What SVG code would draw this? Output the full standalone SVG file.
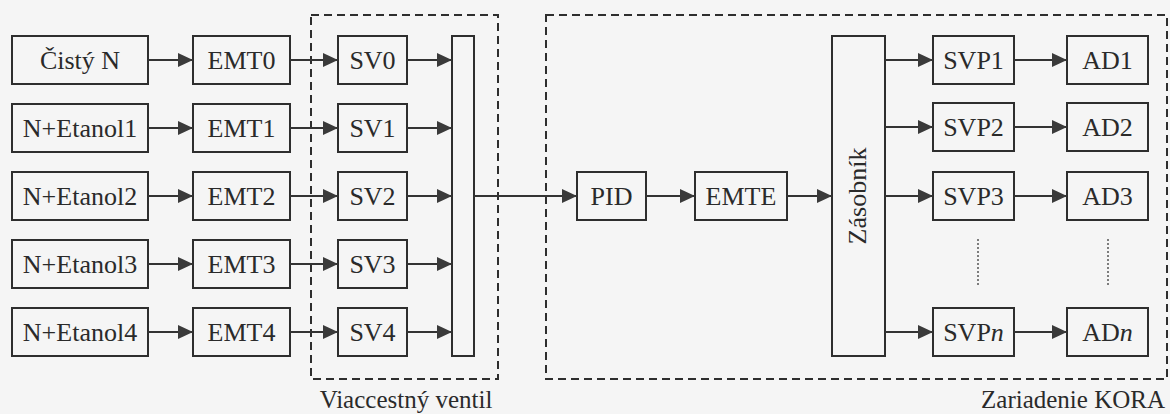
<svg xmlns="http://www.w3.org/2000/svg" width="1170" height="414" viewBox="0 0 1170 414">
<style>
.box{fill:none;stroke:#2e2e2e;stroke-width:2}
.c{fill:none;stroke:#333;stroke-width:2}
.dash{fill:none;stroke:#2e2e2e;stroke-width:2;stroke-dasharray:8 5}
.dot{fill:none;stroke:#555;stroke-width:1.5;stroke-dasharray:2 2}
svg text.t{font-family:'Liberation Serif',serif !important;font-size:26px !important;fill:#2a2a2a;text-anchor:middle}
svg text.lbl{font-family:'Liberation Serif',serif !important;font-size:25px !important;fill:#2a2a2a}
</style>
<defs>
<marker id="ah" markerUnits="userSpaceOnUse" markerWidth="16" markerHeight="14" refX="15" refY="7" orient="auto">
<path d="M0,0 L15,7 L0,14 Z" fill="#3a3a3a"/>
</marker>
</defs>
<rect width="1170" height="414" fill="#f5f5f5"/>
<g id="group-ventil"><rect class="dash" x="311" y="15" width="187" height="364"/><text class="lbl" style="font-family:'Liberation Serif',serif;font-size:25px" x="406" y="408" text-anchor="middle">Viaccestný ventil</text></g>
<g id="group-kora"><rect class="dash" x="546" y="15" width="621" height="364"/><text class="lbl" style="font-family:'Liberation Serif',serif;font-size:25px" x="1165" y="408" text-anchor="end">Zariadenie KORA</text></g>

<g id="n-cisty"><rect class="box" x="12" y="36" width="136" height="48"/><text class="t" style="font-family:'Liberation Serif',serif;font-size:26px" x="80" y="69">Čistý N</text></g>
<g id="n-et1"><rect class="box" x="12" y="104" width="136" height="48"/><text class="t" style="font-family:'Liberation Serif',serif;font-size:26px" x="80" y="137">N+Etanol1</text></g>
<g id="n-et2"><rect class="box" x="12" y="172" width="136" height="48"/><text class="t" style="font-family:'Liberation Serif',serif;font-size:26px" x="80" y="205">N+Etanol2</text></g>
<g id="n-et3"><rect class="box" x="12" y="240" width="136" height="48"/><text class="t" style="font-family:'Liberation Serif',serif;font-size:26px" x="80" y="273">N+Etanol3</text></g>
<g id="n-et4"><rect class="box" x="12" y="308" width="136" height="48"/><text class="t" style="font-family:'Liberation Serif',serif;font-size:26px" x="80" y="341">N+Etanol4</text></g>

<g id="n-emt0"><rect class="box" x="193" y="36" width="97" height="48"/><text class="t" style="font-family:'Liberation Serif',serif;font-size:26px" x="241.5" y="69">EMT0</text></g>
<g id="n-emt1"><rect class="box" x="193" y="104" width="97" height="48"/><text class="t" style="font-family:'Liberation Serif',serif;font-size:26px" x="241.5" y="137">EMT1</text></g>
<g id="n-emt2"><rect class="box" x="193" y="172" width="97" height="48"/><text class="t" style="font-family:'Liberation Serif',serif;font-size:26px" x="241.5" y="205">EMT2</text></g>
<g id="n-emt3"><rect class="box" x="193" y="240" width="97" height="48"/><text class="t" style="font-family:'Liberation Serif',serif;font-size:26px" x="241.5" y="273">EMT3</text></g>
<g id="n-emt4"><rect class="box" x="193" y="308" width="97" height="48"/><text class="t" style="font-family:'Liberation Serif',serif;font-size:26px" x="241.5" y="341">EMT4</text></g>

<g id="n-sv0"><rect class="box" x="338" y="36" width="69" height="48"/><text class="t" style="font-family:'Liberation Serif',serif;font-size:26px" x="372.5" y="69">SV0</text></g>
<g id="n-sv1"><rect class="box" x="338" y="104" width="69" height="48"/><text class="t" style="font-family:'Liberation Serif',serif;font-size:26px" x="372.5" y="137">SV1</text></g>
<g id="n-sv2"><rect class="box" x="338" y="172" width="69" height="48"/><text class="t" style="font-family:'Liberation Serif',serif;font-size:26px" x="372.5" y="205">SV2</text></g>
<g id="n-sv3"><rect class="box" x="338" y="240" width="69" height="48"/><text class="t" style="font-family:'Liberation Serif',serif;font-size:26px" x="372.5" y="273">SV3</text></g>
<g id="n-sv4"><rect class="box" x="338" y="308" width="69" height="48"/><text class="t" style="font-family:'Liberation Serif',serif;font-size:26px" x="372.5" y="341">SV4</text></g>

<g id="n-bar"><rect class="box" x="452" y="36" width="22" height="320"/></g>

<g id="n-pid"><rect class="box" x="577" y="172" width="69" height="48"/><text class="t" style="font-family:'Liberation Serif',serif;font-size:26px" x="611.5" y="205">PID</text></g>
<g id="n-emte"><rect class="box" x="695" y="172" width="92" height="48"/><text class="t" style="font-family:'Liberation Serif',serif;font-size:26px" x="741" y="205">EMTE</text></g>
<g id="n-zasobnik"><rect class="box" x="832" y="36" width="53" height="320"/><text class="t" style="font-family:'Liberation Serif',serif;font-size:26px" transform="translate(866,196) rotate(-90)" x="0" y="0">Zásobník</text></g>

<g id="n-svp1"><rect class="box" x="933" y="36" width="81" height="48"/><text class="t" style="font-family:'Liberation Serif',serif;font-size:26px" x="973.5" y="69">SVP1</text></g>
<g id="n-svp2"><rect class="box" x="933" y="103" width="81" height="48"/><text class="t" style="font-family:'Liberation Serif',serif;font-size:26px" x="973.5" y="136">SVP2</text></g>
<g id="n-svp3"><rect class="box" x="933" y="172" width="81" height="48"/><text class="t" style="font-family:'Liberation Serif',serif;font-size:26px" x="973.5" y="205">SVP3</text></g>
<g id="n-svpn"><rect class="box" x="933" y="308" width="81" height="48"/><text class="t" style="font-family:'Liberation Serif',serif;font-size:26px" x="973.5" y="341">SVP<tspan font-style="italic">n</tspan></text></g>

<g id="n-ad1"><rect class="box" x="1067" y="36" width="81" height="48"/><text class="t" style="font-family:'Liberation Serif',serif;font-size:26px" x="1107.5" y="69">AD1</text></g>
<g id="n-ad2"><rect class="box" x="1067" y="103" width="81" height="48"/><text class="t" style="font-family:'Liberation Serif',serif;font-size:26px" x="1107.5" y="136">AD2</text></g>
<g id="n-ad3"><rect class="box" x="1067" y="172" width="81" height="48"/><text class="t" style="font-family:'Liberation Serif',serif;font-size:26px" x="1107.5" y="205">AD3</text></g>
<g id="n-adn"><rect class="box" x="1067" y="308" width="81" height="48"/><text class="t" style="font-family:'Liberation Serif',serif;font-size:26px" x="1107.5" y="341">AD<tspan font-style="italic">n</tspan></text></g>

<g id="connectors">
<line class="c" x1="148" y1="60" x2="193" y2="60" marker-end="url(#ah)"/>
<line class="c" x1="148" y1="128" x2="193" y2="128" marker-end="url(#ah)"/>
<line class="c" x1="148" y1="196" x2="193" y2="196" marker-end="url(#ah)"/>
<line class="c" x1="148" y1="264" x2="193" y2="264" marker-end="url(#ah)"/>
<line class="c" x1="148" y1="332" x2="193" y2="332" marker-end="url(#ah)"/>
<line class="c" x1="290" y1="60" x2="338" y2="60" marker-end="url(#ah)"/>
<line class="c" x1="290" y1="128" x2="338" y2="128" marker-end="url(#ah)"/>
<line class="c" x1="290" y1="196" x2="338" y2="196" marker-end="url(#ah)"/>
<line class="c" x1="290" y1="264" x2="338" y2="264" marker-end="url(#ah)"/>
<line class="c" x1="290" y1="332" x2="338" y2="332" marker-end="url(#ah)"/>
<line class="c" x1="407" y1="60" x2="452" y2="60" marker-end="url(#ah)"/>
<line class="c" x1="407" y1="128" x2="452" y2="128" marker-end="url(#ah)"/>
<line class="c" x1="407" y1="196" x2="452" y2="196" marker-end="url(#ah)"/>
<line class="c" x1="407" y1="264" x2="452" y2="264" marker-end="url(#ah)"/>
<line class="c" x1="407" y1="332" x2="452" y2="332" marker-end="url(#ah)"/>
<line class="c" x1="474" y1="196" x2="577" y2="196" marker-end="url(#ah)"/>
<line class="c" x1="646" y1="196" x2="695" y2="196" marker-end="url(#ah)"/>
<line class="c" x1="787" y1="196" x2="832" y2="196" marker-end="url(#ah)"/>
<line class="c" x1="885" y1="60" x2="933" y2="60" marker-end="url(#ah)"/>
<line class="c" x1="885" y1="127" x2="933" y2="127" marker-end="url(#ah)"/>
<line class="c" x1="885" y1="196" x2="933" y2="196" marker-end="url(#ah)"/>
<line class="c" x1="885" y1="332" x2="933" y2="332" marker-end="url(#ah)"/>
<line class="c" x1="1014" y1="60" x2="1067" y2="60" marker-end="url(#ah)"/>
<line class="c" x1="1014" y1="127" x2="1067" y2="127" marker-end="url(#ah)"/>
<line class="c" x1="1014" y1="196" x2="1067" y2="196" marker-end="url(#ah)"/>
<line class="c" x1="1014" y1="332" x2="1067" y2="332" marker-end="url(#ah)"/>
<line class="dot" x1="978" y1="239" x2="978" y2="285"/>
<line class="dot" x1="1108" y1="239" x2="1108" y2="285"/>
</g>
</svg>
